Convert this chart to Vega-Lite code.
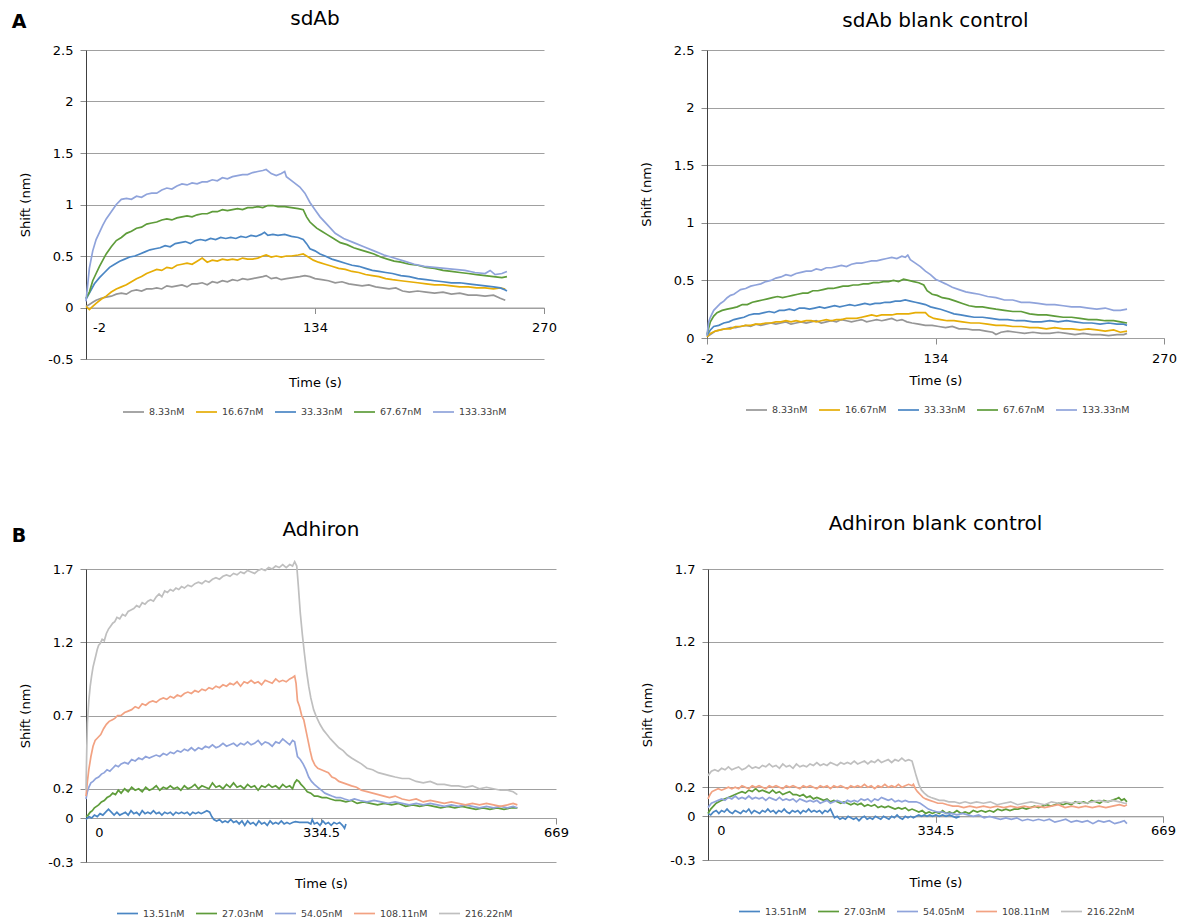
{
"padding": {"left": 11, "top": 8, "right": 5, "bottom": 3},
"spacing": 97,
"resolve": {"scale": {"color": "independent"}, "legend": {"color": "independent"}},
"config": {
  "view": {"stroke": null},
  "font": "DejaVu Sans",
  "title": {"font": "DejaVu Sans", "fontSize": 20, "fontWeight": "normal", "color": "#000000", "baseline": "middle"},
  "axis": {"labelFont": "DejaVu Sans", "labelFontSize": 13, "labelColor": "#000000", "titleFont": "DejaVu Sans", "titleFontSize": 13, "titleFontWeight": "normal", "titleColor": "#000000", "tickColor": "#8c8c8c", "tickSize": 6, "gridColor": "#a0a0a0", "labelOverlap": false, "labelFlush": false, "labelExpr": "'' + datum.value"},
  "axisX": {"grid": false, "domainColor": "#a0a0a0", "labelPadding": 8, "titleBaseline": "middle"},
  "axisY": {"grid": true, "domainColor": "#404040", "labelPadding": 7},
  "legend": {"orient": "none", "direction": "horizontal", "title": null, "symbolType": "stroke", "symbolSize": 440, "symbolStrokeWidth": 3.5, "labelFont": "DejaVu Sans", "labelFontSize": 9.5, "labelColor": "#404040", "labelOffset": 4, "columnPadding": 7, "padding": 0},
  "line": {"strokeWidth": 1.7}
},
"vconcat": [
{
  "title": {"text": "A", "anchor": "start", "frame": "bounds", "fontSize": 19, "fontWeight": "bold", "offset": -23, "dx": -8},
  "spacing": 163, "bounds": "flush",
  "resolve": {"scale": {"x": "independent", "y": "independent", "color": "independent"}, "axis": {"x": "independent", "y": "independent"}, "legend": {"color": "independent"}},
  "hconcat": [
  {
    "width": 458, "height": 309,
    "title": {"text": "sdAb", "offset": 15.5},
    "encoding": {
      "x": {"field": "t", "type": "quantitative", "scale": {"domain": [-2, 270], "nice": false, "zero": false},
            "axis": {"values": [-2, 134, 270], "title": "Time (s)", "offset": -51.5, "titleY": 75, "labelOffset": {"condition": {"test": "datum.value == -2", "value": 13}, "value": 0}}},
      "y": {"field": "v", "type": "quantitative", "scale": {"domain": [-0.5, 2.5], "nice": false, "zero": false},
            "axis": {"values": [-0.5, 0, 0.5, 1, 1.5, 2, 2.5], "title": "Shift (nm)", "titlePadding": 15}}
    },
    "layer": [
      {"data": {"name": "tl1"}, "mark": "line", "encoding": {"color": {"datum": "8.33nM", "type": "nominal",
        "scale": {"domain": ["8.33nM", "16.67nM", "33.33nM", "67.67nM", "133.33nM"], "range": ["#969696", "#e6ad06", "#4a86c4", "#5e9c3a", "#8fa3db"]},
        "legend": {"legendX": 36, "legendY": 350.5}}}},
      {"data": {"name": "tl2"}, "mark": "line", "encoding": {"color": {"datum": "16.67nM", "type": "nominal"}}},
      {"data": {"name": "tl3"}, "mark": "line", "encoding": {"color": {"datum": "33.33nM", "type": "nominal"}}},
      {"data": {"name": "tl4"}, "mark": "line", "encoding": {"color": {"datum": "67.67nM", "type": "nominal"}}},
      {"data": {"name": "tl5"}, "mark": "line", "encoding": {"color": {"datum": "133.33nM", "type": "nominal"}}}
    ]
  },
  {
    "width": 457, "height": 288,
    "title": {"text": "sdAb blank control", "offset": 13.5},
    "encoding": {
      "x": {"field": "t", "type": "quantitative", "scale": {"domain": [-2, 270], "nice": false, "zero": false},
            "axis": {"values": [-2, 134, 270], "title": "Time (s)", "offset": 0, "titleY": 42}},
      "y": {"field": "v", "type": "quantitative", "scale": {"domain": [0, 2.5], "nice": false, "zero": false},
            "axis": {"values": [0, 0.5, 1, 1.5, 2, 2.5], "title": "Shift (nm)", "titlePadding": 20}}
    },
    "layer": [
      {"data": {"name": "tr1"}, "mark": "line", "encoding": {"color": {"datum": "8.33nM", "type": "nominal",
        "scale": {"domain": ["8.33nM", "16.67nM", "33.33nM", "67.67nM", "133.33nM"], "range": ["#969696", "#e6ad06", "#4a86c4", "#5e9c3a", "#8fa3db"]},
        "legend": {"legendX": 38, "legendY": 348.5}}}},
      {"data": {"name": "tr2"}, "mark": "line", "encoding": {"color": {"datum": "16.67nM", "type": "nominal"}}},
      {"data": {"name": "tr3"}, "mark": "line", "encoding": {"color": {"datum": "33.33nM", "type": "nominal"}}},
      {"data": {"name": "tr4"}, "mark": "line", "encoding": {"color": {"datum": "67.67nM", "type": "nominal"}}},
      {"data": {"name": "tr5"}, "mark": "line", "encoding": {"color": {"datum": "133.33nM", "type": "nominal"}}}
    ]
  }
  ]
},
{
  "title": {"text": "B", "anchor": "start", "frame": "bounds", "fontSize": 19, "fontWeight": "bold", "offset": -32, "dx": -8},
  "spacing": 152, "bounds": "flush",
  "resolve": {"scale": {"x": "independent", "y": "independent", "color": "independent"}, "axis": {"x": "independent", "y": "independent"}, "legend": {"color": "independent"}},
  "hconcat": [
  {
    "width": 470, "height": 293,
    "title": {"text": "Adhiron", "offset": 18},
    "encoding": {
      "x": {"field": "t", "type": "quantitative", "scale": {"domain": [0, 669], "nice": false, "zero": false},
            "axis": {"values": [0, 334.5, 669], "title": "Time (s)", "offset": -44, "titleY": 65, "labelPadding": 2.5, "labelOffset": {"condition": {"test": "datum.value == 0", "value": 13}, "value": 0}}},
      "y": {"field": "v", "type": "quantitative", "scale": {"domain": [-0.3, 1.7], "nice": false, "zero": false},
            "axis": {"values": [-0.3, 0, 0.2, 0.7, 1.2, 1.7], "title": "Shift (nm)", "titlePadding": 15}}
    },
    "layer": [
      {"data": {"name": "bl1"}, "mark": "line", "encoding": {"color": {"datum": "13.51nM", "type": "nominal",
        "scale": {"domain": ["13.51nM", "27.03nM", "54.05nM", "108.11nM", "216.22nM"], "range": ["#4a86c4", "#5e9c3a", "#8fa3db", "#f2a282", "#bfbfbf"]},
        "legend": {"legendX": 30, "legendY": 333}}}},
      {"data": {"name": "bl2"}, "mark": "line", "encoding": {"color": {"datum": "27.03nM", "type": "nominal"}}},
      {"data": {"name": "bl3"}, "mark": "line", "encoding": {"color": {"datum": "54.05nM", "type": "nominal"}}},
      {"data": {"name": "bl4"}, "mark": "line", "encoding": {"color": {"datum": "108.11nM", "type": "nominal"}}},
      {"data": {"name": "bl5"}, "mark": "line", "encoding": {"color": {"datum": "216.22nM", "type": "nominal"}}}
    ]
  },
  {
    "width": 455, "height": 291,
    "title": {"text": "Adhiron blank control", "offset": 29},
    "encoding": {
      "x": {"field": "t", "type": "quantitative", "scale": {"domain": [0, 669], "nice": false, "zero": false},
            "axis": {"values": [0, 334.5, 669], "title": "Time (s)", "offset": -43.65, "titleY": 66, "labelPadding": 2.5, "labelOffset": {"condition": {"test": "datum.value == 0", "value": 13}, "value": 0}}},
      "y": {"field": "v", "type": "quantitative", "scale": {"domain": [-0.3, 1.7], "nice": false, "zero": false},
            "axis": {"values": [-0.3, 0, 0.2, 0.7, 1.2, 1.7], "title": "Shift (nm)", "titlePadding": 15}}
    },
    "layer": [
      {"data": {"name": "br1"}, "mark": "line", "encoding": {"color": {"datum": "13.51nM", "type": "nominal",
        "scale": {"domain": ["13.51nM", "27.03nM", "54.05nM", "108.11nM", "216.22nM"], "range": ["#4a86c4", "#5e9c3a", "#8fa3db", "#f2a282", "#bfbfbf"]},
        "legend": {"legendX": 30, "legendY": 331}}}},
      {"data": {"name": "br2"}, "mark": "line", "encoding": {"color": {"datum": "27.03nM", "type": "nominal"}}},
      {"data": {"name": "br3"}, "mark": "line", "encoding": {"color": {"datum": "54.05nM", "type": "nominal"}}},
      {"data": {"name": "br4"}, "mark": "line", "encoding": {"color": {"datum": "108.11nM", "type": "nominal"}}},
      {"data": {"name": "br5"}, "mark": "line", "encoding": {"color": {"datum": "216.22nM", "type": "nominal"}}}
    ]
  }
  ]
}
],
"datasets": {
"tl1": [{"t":-2,"v":0.01},{"t":0,"v":0.03},{"t":2,"v":0.05},{"t":4,"v":0.07},{"t":7,"v":0.09},{"t":10,"v":0.1},{"t":13,"v":0.11},{"t":16,"v":0.13},{"t":19,"v":0.14},{"t":22,"v":0.13},{"t":25,"v":0.16},{"t":28,"v":0.17},{"t":31,"v":0.16},{"t":34,"v":0.18},{"t":37,"v":0.18},{"t":40,"v":0.19},{"t":43,"v":0.18},{"t":46,"v":0.21},{"t":49,"v":0.2},{"t":52,"v":0.21},{"t":55,"v":0.22},{"t":58,"v":0.2},{"t":61,"v":0.23},{"t":64,"v":0.23},{"t":67,"v":0.24},{"t":70,"v":0.22},{"t":73,"v":0.25},{"t":76,"v":0.24},{"t":79,"v":0.26},{"t":82,"v":0.25},{"t":85,"v":0.27},{"t":88,"v":0.26},{"t":91,"v":0.28},{"t":94,"v":0.27},{"t":97,"v":0.28},{"t":100,"v":0.29},{"t":103,"v":0.3},{"t":105,"v":0.31},{"t":108,"v":0.28},{"t":111,"v":0.29},{"t":114,"v":0.27},{"t":117,"v":0.28},{"t":121,"v":0.29},{"t":125,"v":0.3},{"t":128,"v":0.31},{"t":131,"v":0.3},{"t":134,"v":0.28},{"t":138,"v":0.27},{"t":142,"v":0.26},{"t":146,"v":0.24},{"t":150,"v":0.25},{"t":154,"v":0.23},{"t":158,"v":0.22},{"t":162,"v":0.21},{"t":166,"v":0.22},{"t":170,"v":0.2},{"t":174,"v":0.19},{"t":178,"v":0.18},{"t":182,"v":0.19},{"t":186,"v":0.16},{"t":190,"v":0.15},{"t":195,"v":0.16},{"t":200,"v":0.15},{"t":205,"v":0.14},{"t":210,"v":0.15},{"t":215,"v":0.13},{"t":220,"v":0.14},{"t":225,"v":0.12},{"t":230,"v":0.12},{"t":235,"v":0.11},{"t":240,"v":0.12},{"t":244,"v":0.09},{"t":247,"v":0.07}],
"tl2": [{"t":-2,"v":0.01},{"t":0,"v":-0.02},{"t":2,"v":0.01},{"t":4,"v":0.04},{"t":7,"v":0.08},{"t":10,"v":0.11},{"t":13,"v":0.15},{"t":16,"v":0.18},{"t":19,"v":0.2},{"t":22,"v":0.22},{"t":25,"v":0.25},{"t":28,"v":0.28},{"t":31,"v":0.3},{"t":34,"v":0.33},{"t":37,"v":0.35},{"t":40,"v":0.37},{"t":43,"v":0.36},{"t":46,"v":0.39},{"t":49,"v":0.38},{"t":52,"v":0.41},{"t":55,"v":0.42},{"t":58,"v":0.43},{"t":61,"v":0.42},{"t":64,"v":0.45},{"t":67,"v":0.48},{"t":70,"v":0.44},{"t":73,"v":0.46},{"t":76,"v":0.45},{"t":79,"v":0.47},{"t":82,"v":0.46},{"t":85,"v":0.47},{"t":88,"v":0.46},{"t":91,"v":0.48},{"t":94,"v":0.47},{"t":97,"v":0.47},{"t":100,"v":0.48},{"t":103,"v":0.5},{"t":105,"v":0.51},{"t":108,"v":0.49},{"t":111,"v":0.5},{"t":114,"v":0.49},{"t":117,"v":0.5},{"t":120,"v":0.5},{"t":124,"v":0.51},{"t":127,"v":0.52},{"t":130,"v":0.49},{"t":133,"v":0.46},{"t":136,"v":0.44},{"t":140,"v":0.42},{"t":144,"v":0.4},{"t":148,"v":0.38},{"t":152,"v":0.37},{"t":156,"v":0.35},{"t":160,"v":0.34},{"t":164,"v":0.32},{"t":168,"v":0.31},{"t":172,"v":0.3},{"t":176,"v":0.28},{"t":180,"v":0.27},{"t":185,"v":0.26},{"t":190,"v":0.25},{"t":195,"v":0.24},{"t":200,"v":0.23},{"t":205,"v":0.22},{"t":210,"v":0.22},{"t":215,"v":0.21},{"t":220,"v":0.2},{"t":225,"v":0.2},{"t":230,"v":0.19},{"t":235,"v":0.19},{"t":240,"v":0.18},{"t":244,"v":0.19},{"t":247,"v":0.18}],
"tl3": [{"t":-2,"v":0.08},{"t":0,"v":0.14},{"t":3,"v":0.23},{"t":6,"v":0.29},{"t":9,"v":0.34},{"t":12,"v":0.39},{"t":15,"v":0.42},{"t":18,"v":0.45},{"t":21,"v":0.47},{"t":24,"v":0.49},{"t":27,"v":0.5},{"t":30,"v":0.52},{"t":33,"v":0.54},{"t":36,"v":0.56},{"t":39,"v":0.57},{"t":42,"v":0.58},{"t":45,"v":0.6},{"t":48,"v":0.59},{"t":51,"v":0.62},{"t":54,"v":0.63},{"t":57,"v":0.64},{"t":60,"v":0.62},{"t":63,"v":0.65},{"t":66,"v":0.66},{"t":69,"v":0.65},{"t":72,"v":0.67},{"t":75,"v":0.66},{"t":78,"v":0.68},{"t":81,"v":0.67},{"t":84,"v":0.68},{"t":87,"v":0.67},{"t":90,"v":0.69},{"t":93,"v":0.68},{"t":96,"v":0.7},{"t":99,"v":0.69},{"t":102,"v":0.71},{"t":104,"v":0.73},{"t":106,"v":0.7},{"t":109,"v":0.71},{"t":112,"v":0.7},{"t":116,"v":0.71},{"t":120,"v":0.69},{"t":124,"v":0.68},{"t":127,"v":0.66},{"t":129,"v":0.62},{"t":131,"v":0.57},{"t":134,"v":0.55},{"t":137,"v":0.52},{"t":140,"v":0.5},{"t":144,"v":0.47},{"t":148,"v":0.45},{"t":152,"v":0.43},{"t":156,"v":0.41},{"t":160,"v":0.4},{"t":164,"v":0.38},{"t":168,"v":0.36},{"t":172,"v":0.35},{"t":176,"v":0.34},{"t":180,"v":0.33},{"t":185,"v":0.31},{"t":190,"v":0.3},{"t":195,"v":0.28},{"t":200,"v":0.27},{"t":205,"v":0.26},{"t":210,"v":0.25},{"t":215,"v":0.24},{"t":220,"v":0.24},{"t":225,"v":0.23},{"t":230,"v":0.22},{"t":235,"v":0.21},{"t":240,"v":0.2},{"t":244,"v":0.19},{"t":247,"v":0.17},{"t":248,"v":0.16}],
"tl4": [{"t":-2,"v":0.09},{"t":0,"v":0.15},{"t":2,"v":0.26},{"t":4,"v":0.33},{"t":6,"v":0.4},{"t":8,"v":0.46},{"t":10,"v":0.52},{"t":13,"v":0.59},{"t":16,"v":0.65},{"t":19,"v":0.68},{"t":22,"v":0.72},{"t":25,"v":0.74},{"t":28,"v":0.77},{"t":31,"v":0.78},{"t":34,"v":0.81},{"t":37,"v":0.82},{"t":40,"v":0.83},{"t":43,"v":0.85},{"t":46,"v":0.86},{"t":49,"v":0.85},{"t":52,"v":0.87},{"t":55,"v":0.88},{"t":58,"v":0.89},{"t":61,"v":0.88},{"t":64,"v":0.9},{"t":67,"v":0.91},{"t":70,"v":0.91},{"t":73,"v":0.93},{"t":76,"v":0.93},{"t":79,"v":0.95},{"t":82,"v":0.94},{"t":85,"v":0.95},{"t":88,"v":0.96},{"t":91,"v":0.95},{"t":94,"v":0.97},{"t":97,"v":0.97},{"t":100,"v":0.98},{"t":103,"v":0.97},{"t":106,"v":0.99},{"t":109,"v":0.99},{"t":112,"v":0.98},{"t":116,"v":0.98},{"t":120,"v":0.97},{"t":124,"v":0.96},{"t":127,"v":0.95},{"t":129,"v":0.88},{"t":131,"v":0.83},{"t":133,"v":0.8},{"t":135,"v":0.77},{"t":138,"v":0.74},{"t":141,"v":0.71},{"t":145,"v":0.67},{"t":149,"v":0.63},{"t":153,"v":0.61},{"t":157,"v":0.58},{"t":161,"v":0.56},{"t":165,"v":0.54},{"t":169,"v":0.52},{"t":173,"v":0.49},{"t":177,"v":0.47},{"t":181,"v":0.45},{"t":185,"v":0.44},{"t":190,"v":0.42},{"t":195,"v":0.41},{"t":200,"v":0.39},{"t":205,"v":0.38},{"t":210,"v":0.36},{"t":215,"v":0.35},{"t":220,"v":0.34},{"t":225,"v":0.33},{"t":230,"v":0.32},{"t":235,"v":0.31},{"t":240,"v":0.3},{"t":245,"v":0.29},{"t":248,"v":0.3}],
"tl5": [{"t":-2,"v":0.06},{"t":0,"v":0.38},{"t":2,"v":0.55},{"t":4,"v":0.66},{"t":6,"v":0.73},{"t":8,"v":0.8},{"t":10,"v":0.86},{"t":13,"v":0.93},{"t":16,"v":1},{"t":19,"v":1.05},{"t":22,"v":1.06},{"t":25,"v":1.05},{"t":28,"v":1.08},{"t":31,"v":1.07},{"t":34,"v":1.1},{"t":37,"v":1.11},{"t":40,"v":1.11},{"t":43,"v":1.14},{"t":46,"v":1.16},{"t":49,"v":1.15},{"t":52,"v":1.18},{"t":55,"v":1.2},{"t":58,"v":1.19},{"t":61,"v":1.21},{"t":64,"v":1.2},{"t":67,"v":1.22},{"t":70,"v":1.22},{"t":73,"v":1.24},{"t":76,"v":1.23},{"t":79,"v":1.26},{"t":82,"v":1.25},{"t":85,"v":1.27},{"t":88,"v":1.28},{"t":91,"v":1.29},{"t":94,"v":1.29},{"t":97,"v":1.31},{"t":100,"v":1.32},{"t":103,"v":1.33},{"t":105,"v":1.34},{"t":108,"v":1.3},{"t":111,"v":1.28},{"t":114,"v":1.3},{"t":116,"v":1.32},{"t":117,"v":1.27},{"t":121,"v":1.22},{"t":125,"v":1.17},{"t":128,"v":1.11},{"t":131,"v":1.02},{"t":134,"v":0.95},{"t":137,"v":0.88},{"t":141,"v":0.81},{"t":146,"v":0.72},{"t":151,"v":0.67},{"t":157,"v":0.63},{"t":163,"v":0.59},{"t":169,"v":0.55},{"t":175,"v":0.51},{"t":181,"v":0.48},{"t":187,"v":0.45},{"t":193,"v":0.42},{"t":199,"v":0.4},{"t":205,"v":0.39},{"t":211,"v":0.38},{"t":217,"v":0.37},{"t":223,"v":0.36},{"t":229,"v":0.34},{"t":235,"v":0.33},{"t":238,"v":0.36},{"t":241,"v":0.32},{"t":245,"v":0.33},{"t":248,"v":0.35}],
"tr1": [{"t":-2,"v":0.01},{"t":0,"v":0.03},{"t":3,"v":0.06},{"t":6,"v":0.07},{"t":9,"v":0.08},{"t":12,"v":0.09},{"t":15,"v":0.09},{"t":18,"v":0.1},{"t":21,"v":0.11},{"t":24,"v":0.1},{"t":27,"v":0.12},{"t":30,"v":0.11},{"t":33,"v":0.12},{"t":36,"v":0.13},{"t":39,"v":0.12},{"t":42,"v":0.13},{"t":45,"v":0.14},{"t":48,"v":0.12},{"t":51,"v":0.13},{"t":54,"v":0.14},{"t":57,"v":0.13},{"t":60,"v":0.14},{"t":63,"v":0.15},{"t":66,"v":0.13},{"t":69,"v":0.14},{"t":72,"v":0.15},{"t":75,"v":0.14},{"t":78,"v":0.16},{"t":81,"v":0.15},{"t":84,"v":0.14},{"t":87,"v":0.15},{"t":90,"v":0.16},{"t":93,"v":0.14},{"t":96,"v":0.15},{"t":99,"v":0.16},{"t":102,"v":0.15},{"t":105,"v":0.16},{"t":108,"v":0.17},{"t":111,"v":0.15},{"t":114,"v":0.16},{"t":117,"v":0.14},{"t":120,"v":0.13},{"t":124,"v":0.12},{"t":128,"v":0.11},{"t":132,"v":0.11},{"t":136,"v":0.1},{"t":140,"v":0.09},{"t":144,"v":0.1},{"t":148,"v":0.08},{"t":152,"v":0.08},{"t":156,"v":0.07},{"t":160,"v":0.07},{"t":164,"v":0.06},{"t":168,"v":0.05},{"t":170,"v":0.03},{"t":173,"v":0.05},{"t":177,"v":0.06},{"t":182,"v":0.05},{"t":187,"v":0.04},{"t":192,"v":0.05},{"t":197,"v":0.04},{"t":202,"v":0.04},{"t":207,"v":0.05},{"t":212,"v":0.04},{"t":217,"v":0.03},{"t":222,"v":0.04},{"t":227,"v":0.03},{"t":232,"v":0.03},{"t":237,"v":0.02},{"t":242,"v":0.03},{"t":246,"v":0.03},{"t":248,"v":0.04}],
"tr2": [{"t":-2,"v":0.01},{"t":0,"v":0.04},{"t":3,"v":0.06},{"t":6,"v":0.07},{"t":9,"v":0.08},{"t":12,"v":0.08},{"t":15,"v":0.1},{"t":18,"v":0.1},{"t":21,"v":0.11},{"t":24,"v":0.11},{"t":27,"v":0.12},{"t":30,"v":0.12},{"t":33,"v":0.13},{"t":36,"v":0.13},{"t":39,"v":0.14},{"t":42,"v":0.14},{"t":45,"v":0.15},{"t":48,"v":0.14},{"t":51,"v":0.15},{"t":54,"v":0.14},{"t":57,"v":0.15},{"t":60,"v":0.15},{"t":63,"v":0.14},{"t":66,"v":0.15},{"t":69,"v":0.16},{"t":72,"v":0.15},{"t":75,"v":0.16},{"t":78,"v":0.16},{"t":81,"v":0.17},{"t":84,"v":0.17},{"t":87,"v":0.17},{"t":90,"v":0.18},{"t":93,"v":0.19},{"t":96,"v":0.2},{"t":99,"v":0.19},{"t":102,"v":0.2},{"t":105,"v":0.2},{"t":108,"v":0.2},{"t":111,"v":0.21},{"t":114,"v":0.21},{"t":118,"v":0.21},{"t":122,"v":0.22},{"t":126,"v":0.22},{"t":128,"v":0.22},{"t":130,"v":0.19},{"t":133,"v":0.17},{"t":137,"v":0.16},{"t":141,"v":0.15},{"t":145,"v":0.15},{"t":150,"v":0.14},{"t":155,"v":0.13},{"t":160,"v":0.13},{"t":165,"v":0.12},{"t":170,"v":0.11},{"t":175,"v":0.11},{"t":180,"v":0.1},{"t":185,"v":0.1},{"t":190,"v":0.09},{"t":195,"v":0.09},{"t":200,"v":0.08},{"t":205,"v":0.09},{"t":210,"v":0.08},{"t":215,"v":0.08},{"t":220,"v":0.07},{"t":225,"v":0.08},{"t":230,"v":0.07},{"t":235,"v":0.06},{"t":240,"v":0.07},{"t":244,"v":0.05},{"t":248,"v":0.06}],
"tr3": [{"t":-2,"v":0.02},{"t":0,"v":0.07},{"t":2,"v":0.1},{"t":5,"v":0.11},{"t":8,"v":0.13},{"t":11,"v":0.14},{"t":14,"v":0.16},{"t":17,"v":0.17},{"t":20,"v":0.18},{"t":23,"v":0.2},{"t":26,"v":0.21},{"t":29,"v":0.21},{"t":32,"v":0.22},{"t":35,"v":0.23},{"t":38,"v":0.22},{"t":41,"v":0.24},{"t":44,"v":0.24},{"t":47,"v":0.25},{"t":50,"v":0.24},{"t":53,"v":0.26},{"t":56,"v":0.26},{"t":59,"v":0.25},{"t":62,"v":0.26},{"t":65,"v":0.27},{"t":68,"v":0.26},{"t":71,"v":0.27},{"t":74,"v":0.28},{"t":77,"v":0.27},{"t":80,"v":0.28},{"t":83,"v":0.29},{"t":86,"v":0.28},{"t":89,"v":0.29},{"t":92,"v":0.3},{"t":95,"v":0.29},{"t":98,"v":0.3},{"t":101,"v":0.3},{"t":104,"v":0.31},{"t":107,"v":0.31},{"t":110,"v":0.32},{"t":113,"v":0.32},{"t":116,"v":0.33},{"t":119,"v":0.32},{"t":122,"v":0.31},{"t":125,"v":0.3},{"t":128,"v":0.29},{"t":131,"v":0.27},{"t":134,"v":0.26},{"t":137,"v":0.25},{"t":141,"v":0.23},{"t":145,"v":0.21},{"t":149,"v":0.2},{"t":153,"v":0.19},{"t":157,"v":0.18},{"t":162,"v":0.18},{"t":167,"v":0.17},{"t":172,"v":0.16},{"t":177,"v":0.16},{"t":182,"v":0.15},{"t":187,"v":0.15},{"t":192,"v":0.14},{"t":197,"v":0.14},{"t":202,"v":0.15},{"t":207,"v":0.14},{"t":212,"v":0.15},{"t":217,"v":0.14},{"t":222,"v":0.13},{"t":227,"v":0.13},{"t":232,"v":0.12},{"t":237,"v":0.13},{"t":242,"v":0.12},{"t":246,"v":0.12},{"t":248,"v":0.11}],
"tr4": [{"t":-2,"v":0.03},{"t":0,"v":0.14},{"t":2,"v":0.19},{"t":4,"v":0.22},{"t":7,"v":0.24},{"t":10,"v":0.25},{"t":13,"v":0.26},{"t":16,"v":0.27},{"t":19,"v":0.29},{"t":22,"v":0.29},{"t":25,"v":0.31},{"t":28,"v":0.32},{"t":31,"v":0.33},{"t":34,"v":0.34},{"t":37,"v":0.35},{"t":40,"v":0.36},{"t":43,"v":0.35},{"t":46,"v":0.36},{"t":49,"v":0.37},{"t":52,"v":0.38},{"t":55,"v":0.39},{"t":58,"v":0.39},{"t":61,"v":0.41},{"t":64,"v":0.41},{"t":67,"v":0.42},{"t":70,"v":0.43},{"t":73,"v":0.43},{"t":76,"v":0.44},{"t":79,"v":0.45},{"t":82,"v":0.45},{"t":85,"v":0.46},{"t":88,"v":0.46},{"t":91,"v":0.47},{"t":94,"v":0.47},{"t":97,"v":0.48},{"t":100,"v":0.48},{"t":103,"v":0.49},{"t":106,"v":0.49},{"t":109,"v":0.5},{"t":112,"v":0.49},{"t":115,"v":0.51},{"t":118,"v":0.5},{"t":121,"v":0.49},{"t":124,"v":0.48},{"t":127,"v":0.46},{"t":129,"v":0.41},{"t":132,"v":0.38},{"t":135,"v":0.37},{"t":138,"v":0.35},{"t":142,"v":0.34},{"t":146,"v":0.32},{"t":150,"v":0.3},{"t":154,"v":0.28},{"t":158,"v":0.27},{"t":162,"v":0.27},{"t":166,"v":0.26},{"t":170,"v":0.25},{"t":175,"v":0.24},{"t":180,"v":0.23},{"t":185,"v":0.23},{"t":190,"v":0.21},{"t":195,"v":0.2},{"t":200,"v":0.2},{"t":205,"v":0.19},{"t":210,"v":0.18},{"t":215,"v":0.18},{"t":220,"v":0.17},{"t":225,"v":0.16},{"t":230,"v":0.16},{"t":235,"v":0.15},{"t":240,"v":0.15},{"t":244,"v":0.14},{"t":248,"v":0.13}],
"tr5": [{"t":-2,"v":0.02},{"t":-1,"v":0.14},{"t":0,"v":0.18},{"t":2,"v":0.24},{"t":4,"v":0.27},{"t":6,"v":0.3},{"t":8,"v":0.32},{"t":10,"v":0.35},{"t":12,"v":0.37},{"t":14,"v":0.38},{"t":16,"v":0.4},{"t":18,"v":0.42},{"t":21,"v":0.43},{"t":24,"v":0.45},{"t":27,"v":0.46},{"t":30,"v":0.47},{"t":33,"v":0.49},{"t":36,"v":0.5},{"t":39,"v":0.52},{"t":42,"v":0.53},{"t":45,"v":0.55},{"t":48,"v":0.54},{"t":51,"v":0.56},{"t":54,"v":0.57},{"t":57,"v":0.58},{"t":60,"v":0.58},{"t":63,"v":0.6},{"t":66,"v":0.59},{"t":69,"v":0.61},{"t":72,"v":0.61},{"t":75,"v":0.62},{"t":78,"v":0.63},{"t":81,"v":0.62},{"t":84,"v":0.64},{"t":87,"v":0.65},{"t":90,"v":0.65},{"t":93,"v":0.66},{"t":96,"v":0.67},{"t":99,"v":0.67},{"t":102,"v":0.68},{"t":105,"v":0.69},{"t":108,"v":0.7},{"t":111,"v":0.69},{"t":114,"v":0.71},{"t":116,"v":0.7},{"t":117.5,"v":0.72},{"t":119,"v":0.68},{"t":122,"v":0.65},{"t":125,"v":0.62},{"t":128,"v":0.58},{"t":131,"v":0.55},{"t":134,"v":0.51},{"t":137,"v":0.49},{"t":140,"v":0.47},{"t":144,"v":0.44},{"t":148,"v":0.42},{"t":152,"v":0.4},{"t":156,"v":0.39},{"t":160,"v":0.38},{"t":165,"v":0.36},{"t":170,"v":0.35},{"t":175,"v":0.33},{"t":180,"v":0.33},{"t":185,"v":0.31},{"t":190,"v":0.31},{"t":195,"v":0.3},{"t":200,"v":0.29},{"t":205,"v":0.29},{"t":210,"v":0.28},{"t":215,"v":0.27},{"t":220,"v":0.27},{"t":225,"v":0.26},{"t":230,"v":0.25},{"t":235,"v":0.26},{"t":240,"v":0.24},{"t":244,"v":0.24},{"t":248,"v":0.25}],
"bl1": [{"t":0,"v":-0.01},{"t":4,"v":0.01},{"t":8,"v":0},{"t":12,"v":0.02},{"t":16,"v":0.01},{"t":20,"v":0.03},{"t":24,"v":0.02},{"t":28,"v":0.04},{"t":32,"v":0.06},{"t":36,"v":0.04},{"t":40,"v":0.02},{"t":44,"v":0.04},{"t":48,"v":0.02},{"t":52,"v":0.03},{"t":56,"v":0.04},{"t":60,"v":0.02},{"t":64,"v":0.05},{"t":68,"v":0.03},{"t":72,"v":0.04},{"t":76,"v":0.02},{"t":80,"v":0.05},{"t":84,"v":0.03},{"t":88,"v":0.04},{"t":92,"v":0.03},{"t":96,"v":0.05},{"t":100,"v":0.03},{"t":104,"v":0.04},{"t":108,"v":0.02},{"t":112,"v":0.04},{"t":116,"v":0.03},{"t":120,"v":0.04},{"t":124,"v":0.02},{"t":128,"v":0.04},{"t":132,"v":0.03},{"t":136,"v":0.04},{"t":140,"v":0.03},{"t":144,"v":0.04},{"t":148,"v":0.02},{"t":152,"v":0.04},{"t":156,"v":0.03},{"t":160,"v":0.04},{"t":164,"v":0.03},{"t":168,"v":0.04},{"t":172,"v":0.05},{"t":176,"v":0.04},{"t":179,"v":0.01},{"t":182,"v":-0.01},{"t":186,"v":-0.02},{"t":190,"v":-0.01},{"t":194,"v":-0.03},{"t":198,"v":-0.02},{"t":202,"v":-0.03},{"t":206,"v":-0.01},{"t":210,"v":-0.03},{"t":214,"v":-0.02},{"t":218,"v":-0.04},{"t":222,"v":-0.02},{"t":226,"v":-0.05},{"t":230,"v":-0.02},{"t":234,"v":-0.04},{"t":238,"v":-0.03},{"t":242,"v":-0.05},{"t":246,"v":-0.02},{"t":250,"v":-0.04},{"t":254,"v":-0.03},{"t":258,"v":-0.05},{"t":262,"v":-0.02},{"t":266,"v":-0.04},{"t":270,"v":-0.03},{"t":274,"v":-0.04},{"t":278,"v":-0.02},{"t":282,"v":-0.04},{"t":286,"v":-0.03},{"t":290,"v":-0.04},{"t":294,"v":-0.03},{"t":298,"v":-0.025},{"t":304,"v":-0.03},{"t":310,"v":-0.03},{"t":316,"v":-0.03},{"t":320,"v":-0.04},{"t":322,"v":-0.01},{"t":325,"v":-0.04},{"t":329,"v":-0.03},{"t":333,"v":-0.05},{"t":337,"v":-0.02},{"t":341,"v":-0.04},{"t":345,"v":-0.03},{"t":349,"v":-0.05},{"t":353,"v":-0.03},{"t":357,"v":-0.04},{"t":361,"v":-0.03},{"t":365,"v":-0.05},{"t":368,"v":-0.07},{"t":370,"v":-0.04}],
"bl2": [{"t":0,"v":0.01},{"t":3,"v":0.02},{"t":6,"v":0.04},{"t":9,"v":0.05},{"t":12,"v":0.07},{"t":15,"v":0.08},{"t":18,"v":0.09},{"t":22,"v":0.11},{"t":26,"v":0.12},{"t":30,"v":0.14},{"t":34,"v":0.15},{"t":38,"v":0.17},{"t":42,"v":0.16},{"t":46,"v":0.19},{"t":50,"v":0.17},{"t":55,"v":0.2},{"t":60,"v":0.18},{"t":65,"v":0.21},{"t":70,"v":0.19},{"t":75,"v":0.2},{"t":80,"v":0.18},{"t":85,"v":0.21},{"t":90,"v":0.19},{"t":95,"v":0.2},{"t":100,"v":0.22},{"t":105,"v":0.19},{"t":110,"v":0.21},{"t":115,"v":0.2},{"t":120,"v":0.22},{"t":125,"v":0.2},{"t":130,"v":0.21},{"t":135,"v":0.19},{"t":140,"v":0.22},{"t":145,"v":0.2},{"t":150,"v":0.21},{"t":155,"v":0.23},{"t":160,"v":0.2},{"t":165,"v":0.22},{"t":170,"v":0.21},{"t":175,"v":0.2},{"t":180,"v":0.24},{"t":185,"v":0.21},{"t":190,"v":0.22},{"t":195,"v":0.2},{"t":200,"v":0.23},{"t":205,"v":0.21},{"t":210,"v":0.24},{"t":215,"v":0.21},{"t":220,"v":0.22},{"t":225,"v":0.2},{"t":230,"v":0.23},{"t":235,"v":0.21},{"t":240,"v":0.22},{"t":245,"v":0.19},{"t":250,"v":0.22},{"t":255,"v":0.21},{"t":260,"v":0.23},{"t":265,"v":0.21},{"t":270,"v":0.22},{"t":275,"v":0.2},{"t":280,"v":0.23},{"t":285,"v":0.21},{"t":290,"v":0.22},{"t":294,"v":0.2},{"t":297,"v":0.24},{"t":300,"v":0.26},{"t":303,"v":0.25},{"t":306,"v":0.23},{"t":310,"v":0.21},{"t":315,"v":0.18},{"t":320,"v":0.17},{"t":325,"v":0.15},{"t":330,"v":0.15},{"t":336,"v":0.14},{"t":342,"v":0.14},{"t":348,"v":0.13},{"t":355,"v":0.12},{"t":362,"v":0.12},{"t":370,"v":0.11},{"t":378,"v":0.12},{"t":386,"v":0.1},{"t":395,"v":0.11},{"t":405,"v":0.1},{"t":415,"v":0.09},{"t":425,"v":0.1},{"t":435,"v":0.09},{"t":445,"v":0.1},{"t":455,"v":0.08},{"t":465,"v":0.09},{"t":475,"v":0.08},{"t":485,"v":0.09},{"t":495,"v":0.08},{"t":505,"v":0.07},{"t":515,"v":0.08},{"t":525,"v":0.07},{"t":535,"v":0.08},{"t":545,"v":0.07},{"t":555,"v":0.06},{"t":565,"v":0.07},{"t":575,"v":0.06},{"t":585,"v":0.07},{"t":595,"v":0.06},{"t":605,"v":0.07},{"t":614,"v":0.07}],
"bl3": [{"t":0,"v":0.13},{"t":2,"v":0.18},{"t":4,"v":0.21},{"t":7,"v":0.24},{"t":10,"v":0.25},{"t":14,"v":0.27},{"t":18,"v":0.28},{"t":22,"v":0.3},{"t":26,"v":0.31},{"t":30,"v":0.33},{"t":34,"v":0.32},{"t":38,"v":0.34},{"t":42,"v":0.36},{"t":46,"v":0.35},{"t":50,"v":0.37},{"t":55,"v":0.38},{"t":60,"v":0.37},{"t":65,"v":0.4},{"t":70,"v":0.39},{"t":75,"v":0.41},{"t":80,"v":0.4},{"t":85,"v":0.42},{"t":90,"v":0.41},{"t":95,"v":0.42},{"t":100,"v":0.43},{"t":105,"v":0.42},{"t":110,"v":0.44},{"t":115,"v":0.43},{"t":120,"v":0.45},{"t":125,"v":0.44},{"t":130,"v":0.46},{"t":135,"v":0.45},{"t":140,"v":0.47},{"t":145,"v":0.46},{"t":150,"v":0.48},{"t":155,"v":0.46},{"t":160,"v":0.48},{"t":165,"v":0.47},{"t":170,"v":0.49},{"t":175,"v":0.48},{"t":180,"v":0.5},{"t":185,"v":0.48},{"t":190,"v":0.49},{"t":195,"v":0.51},{"t":200,"v":0.49},{"t":205,"v":0.5},{"t":210,"v":0.51},{"t":215,"v":0.49},{"t":220,"v":0.51},{"t":225,"v":0.5},{"t":230,"v":0.52},{"t":235,"v":0.5},{"t":240,"v":0.51},{"t":245,"v":0.53},{"t":250,"v":0.5},{"t":255,"v":0.52},{"t":260,"v":0.51},{"t":265,"v":0.49},{"t":270,"v":0.52},{"t":275,"v":0.51},{"t":280,"v":0.54},{"t":285,"v":0.52},{"t":290,"v":0.5},{"t":294,"v":0.53},{"t":297,"v":0.52},{"t":299,"v":0.47},{"t":301,"v":0.42},{"t":305,"v":0.4},{"t":309,"v":0.37},{"t":313,"v":0.33},{"t":317,"v":0.28},{"t":321,"v":0.25},{"t":325,"v":0.23},{"t":330,"v":0.21},{"t":335,"v":0.19},{"t":340,"v":0.17},{"t":345,"v":0.16},{"t":350,"v":0.15},{"t":356,"v":0.14},{"t":362,"v":0.14},{"t":368,"v":0.13},{"t":375,"v":0.12},{"t":382,"v":0.13},{"t":390,"v":0.12},{"t":400,"v":0.11},{"t":410,"v":0.12},{"t":420,"v":0.11},{"t":430,"v":0.1},{"t":440,"v":0.11},{"t":450,"v":0.1},{"t":460,"v":0.09},{"t":470,"v":0.1},{"t":480,"v":0.09},{"t":490,"v":0.1},{"t":500,"v":0.09},{"t":510,"v":0.08},{"t":520,"v":0.09},{"t":530,"v":0.08},{"t":540,"v":0.09},{"t":550,"v":0.08},{"t":560,"v":0.07},{"t":570,"v":0.08},{"t":580,"v":0.07},{"t":590,"v":0.08},{"t":600,"v":0.07},{"t":608,"v":0.08},{"t":614,"v":0.07}],
"bl4": [{"t":0,"v":0.15},{"t":2,"v":0.25},{"t":4,"v":0.33},{"t":7,"v":0.42},{"t":10,"v":0.49},{"t":13,"v":0.53},{"t":17,"v":0.55},{"t":21,"v":0.57},{"t":25,"v":0.61},{"t":29,"v":0.64},{"t":33,"v":0.66},{"t":37,"v":0.67},{"t":41,"v":0.68},{"t":45,"v":0.7},{"t":50,"v":0.7},{"t":55,"v":0.72},{"t":60,"v":0.73},{"t":65,"v":0.74},{"t":70,"v":0.76},{"t":75,"v":0.75},{"t":80,"v":0.78},{"t":85,"v":0.77},{"t":90,"v":0.79},{"t":95,"v":0.8},{"t":100,"v":0.79},{"t":105,"v":0.81},{"t":110,"v":0.82},{"t":115,"v":0.81},{"t":120,"v":0.83},{"t":125,"v":0.82},{"t":130,"v":0.84},{"t":135,"v":0.83},{"t":140,"v":0.85},{"t":145,"v":0.86},{"t":150,"v":0.85},{"t":155,"v":0.87},{"t":160,"v":0.86},{"t":165,"v":0.88},{"t":170,"v":0.87},{"t":175,"v":0.89},{"t":180,"v":0.88},{"t":185,"v":0.9},{"t":190,"v":0.89},{"t":195,"v":0.91},{"t":200,"v":0.9},{"t":205,"v":0.92},{"t":210,"v":0.91},{"t":215,"v":0.93},{"t":220,"v":0.9},{"t":225,"v":0.93},{"t":230,"v":0.92},{"t":235,"v":0.94},{"t":240,"v":0.92},{"t":245,"v":0.93},{"t":250,"v":0.91},{"t":255,"v":0.94},{"t":260,"v":0.93},{"t":265,"v":0.92},{"t":270,"v":0.95},{"t":275,"v":0.93},{"t":280,"v":0.94},{"t":285,"v":0.93},{"t":290,"v":0.95},{"t":294,"v":0.96},{"t":297,"v":0.97},{"t":299,"v":0.92},{"t":301,"v":0.8},{"t":304,"v":0.76},{"t":307,"v":0.7},{"t":310,"v":0.67},{"t":313,"v":0.6},{"t":316,"v":0.53},{"t":319,"v":0.46},{"t":322,"v":0.4},{"t":326,"v":0.36},{"t":330,"v":0.34},{"t":335,"v":0.33},{"t":340,"v":0.32},{"t":345,"v":0.31},{"t":350,"v":0.28},{"t":355,"v":0.27},{"t":360,"v":0.25},{"t":366,"v":0.24},{"t":372,"v":0.23},{"t":378,"v":0.22},{"t":385,"v":0.21},{"t":392,"v":0.19},{"t":400,"v":0.18},{"t":408,"v":0.17},{"t":416,"v":0.16},{"t":424,"v":0.15},{"t":432,"v":0.14},{"t":440,"v":0.15},{"t":450,"v":0.13},{"t":460,"v":0.12},{"t":470,"v":0.13},{"t":480,"v":0.11},{"t":490,"v":0.12},{"t":500,"v":0.11},{"t":510,"v":0.1},{"t":520,"v":0.11},{"t":530,"v":0.1},{"t":540,"v":0.09},{"t":550,"v":0.1},{"t":560,"v":0.09},{"t":570,"v":0.1},{"t":580,"v":0.09},{"t":590,"v":0.08},{"t":600,"v":0.09},{"t":608,"v":0.1},{"t":614,"v":0.09}],
"bl5": [{"t":0,"v":0.19},{"t":1,"v":0.45},{"t":2,"v":0.65},{"t":4,"v":0.8},{"t":6,"v":0.9},{"t":8,"v":0.97},{"t":10,"v":1.03},{"t":12,"v":1.07},{"t":14,"v":1.11},{"t":16,"v":1.15},{"t":18,"v":1.18},{"t":20,"v":1.19},{"t":23,"v":1.22},{"t":26,"v":1.21},{"t":29,"v":1.26},{"t":32,"v":1.29},{"t":35,"v":1.31},{"t":38,"v":1.33},{"t":41,"v":1.34},{"t":44,"v":1.37},{"t":48,"v":1.36},{"t":52,"v":1.39},{"t":56,"v":1.38},{"t":60,"v":1.41},{"t":64,"v":1.42},{"t":68,"v":1.43},{"t":72,"v":1.45},{"t":76,"v":1.44},{"t":80,"v":1.47},{"t":84,"v":1.46},{"t":88,"v":1.48},{"t":92,"v":1.49},{"t":96,"v":1.48},{"t":100,"v":1.51},{"t":104,"v":1.53},{"t":108,"v":1.51},{"t":112,"v":1.55},{"t":116,"v":1.54},{"t":120,"v":1.56},{"t":124,"v":1.55},{"t":128,"v":1.57},{"t":132,"v":1.56},{"t":136,"v":1.58},{"t":140,"v":1.57},{"t":145,"v":1.59},{"t":150,"v":1.58},{"t":155,"v":1.6},{"t":160,"v":1.61},{"t":165,"v":1.6},{"t":170,"v":1.62},{"t":175,"v":1.61},{"t":180,"v":1.63},{"t":185,"v":1.64},{"t":190,"v":1.63},{"t":195,"v":1.65},{"t":200,"v":1.66},{"t":205,"v":1.65},{"t":210,"v":1.67},{"t":215,"v":1.66},{"t":220,"v":1.68},{"t":225,"v":1.67},{"t":230,"v":1.69},{"t":235,"v":1.68},{"t":240,"v":1.67},{"t":245,"v":1.69},{"t":250,"v":1.7},{"t":255,"v":1.69},{"t":260,"v":1.71},{"t":265,"v":1.7},{"t":270,"v":1.72},{"t":275,"v":1.71},{"t":280,"v":1.73},{"t":285,"v":1.71},{"t":290,"v":1.73},{"t":294,"v":1.72},{"t":297,"v":1.75},{"t":300,"v":1.72},{"t":302,"v":1.6},{"t":305,"v":1.4},{"t":308,"v":1.25},{"t":311,"v":1.12},{"t":314,"v":1},{"t":317,"v":0.9},{"t":320,"v":0.82},{"t":324,"v":0.74},{"t":328,"v":0.69},{"t":333,"v":0.64},{"t":338,"v":0.6},{"t":343,"v":0.57},{"t":348,"v":0.54},{"t":354,"v":0.51},{"t":360,"v":0.48},{"t":366,"v":0.46},{"t":372,"v":0.43},{"t":378,"v":0.41},{"t":385,"v":0.39},{"t":392,"v":0.37},{"t":400,"v":0.34},{"t":408,"v":0.33},{"t":416,"v":0.31},{"t":424,"v":0.3},{"t":432,"v":0.29},{"t":440,"v":0.28},{"t":450,"v":0.27},{"t":460,"v":0.27},{"t":470,"v":0.25},{"t":480,"v":0.24},{"t":490,"v":0.25},{"t":500,"v":0.23},{"t":510,"v":0.23},{"t":520,"v":0.22},{"t":530,"v":0.22},{"t":540,"v":0.21},{"t":550,"v":0.22},{"t":560,"v":0.2},{"t":570,"v":0.21},{"t":580,"v":0.2},{"t":590,"v":0.19},{"t":600,"v":0.19},{"t":608,"v":0.18},{"t":614,"v":0.16}],
"br1": [{"t":0,"v":0.02},{"t":4,"v":0.01},{"t":8,"v":0.03},{"t":12,"v":0.04},{"t":16,"v":0.02},{"t":20,"v":0.04},{"t":24,"v":0.03},{"t":28,"v":0.05},{"t":32,"v":0.03},{"t":36,"v":0.02},{"t":40,"v":0.04},{"t":44,"v":0.03},{"t":48,"v":0.02},{"t":52,"v":0.04},{"t":56,"v":0.03},{"t":60,"v":0.05},{"t":64,"v":0.02},{"t":68,"v":0.04},{"t":72,"v":0.03},{"t":76,"v":0.02},{"t":80,"v":0.04},{"t":84,"v":0.03},{"t":88,"v":0.05},{"t":92,"v":0.03},{"t":96,"v":0.04},{"t":100,"v":0.02},{"t":104,"v":0.04},{"t":108,"v":0.03},{"t":112,"v":0.05},{"t":116,"v":0.03},{"t":120,"v":0.02},{"t":124,"v":0.04},{"t":128,"v":0.03},{"t":132,"v":0.04},{"t":136,"v":0.02},{"t":140,"v":0.04},{"t":144,"v":0.03},{"t":148,"v":0.05},{"t":152,"v":0.03},{"t":156,"v":0.04},{"t":160,"v":0.03},{"t":164,"v":0.04},{"t":168,"v":0.02},{"t":172,"v":0.04},{"t":176,"v":0.03},{"t":180,"v":0.05},{"t":183,"v":0.02},{"t":186,"v":-0.01},{"t":190,"v":0},{"t":194,"v":-0.02},{"t":198,"v":-0.01},{"t":202,"v":-0.02},{"t":206,"v":0},{"t":210,"v":-0.01},{"t":214,"v":-0.02},{"t":218,"v":-0.01},{"t":222,"v":-0.03},{"t":226,"v":-0.01},{"t":230,"v":0},{"t":234,"v":-0.02},{"t":238,"v":-0.01},{"t":242,"v":-0.02},{"t":246,"v":0},{"t":250,"v":-0.01},{"t":254,"v":-0.02},{"t":258,"v":0},{"t":262,"v":-0.01},{"t":266,"v":-0.02},{"t":270,"v":0},{"t":274,"v":-0.01},{"t":278,"v":0.01},{"t":282,"v":-0.01},{"t":286,"v":-0.02},{"t":290,"v":0},{"t":294,"v":-0.01},{"t":298,"v":0},{"t":302,"v":-0.01},{"t":306,"v":0},{"t":310,"v":0.01},{"t":314,"v":0},{"t":318,"v":0.01},{"t":322,"v":0},{"t":326,"v":0.01},{"t":330,"v":0},{"t":335,"v":0.01},{"t":340,"v":0},{"t":345,"v":0.01},{"t":350,"v":0},{"t":355,"v":0.01},{"t":360,"v":0},{"t":365,"v":-0.01},{"t":370,"v":0}],
"br2": [{"t":0,"v":0.02},{"t":4,"v":0.05},{"t":8,"v":0.07},{"t":12,"v":0.09},{"t":16,"v":0.1},{"t":20,"v":0.11},{"t":25,"v":0.12},{"t":30,"v":0.13},{"t":35,"v":0.14},{"t":40,"v":0.15},{"t":45,"v":0.16},{"t":50,"v":0.17},{"t":55,"v":0.16},{"t":60,"v":0.18},{"t":65,"v":0.17},{"t":70,"v":0.19},{"t":75,"v":0.17},{"t":80,"v":0.18},{"t":85,"v":0.17},{"t":90,"v":0.16},{"t":95,"v":0.18},{"t":100,"v":0.16},{"t":105,"v":0.17},{"t":110,"v":0.15},{"t":115,"v":0.16},{"t":120,"v":0.17},{"t":125,"v":0.15},{"t":130,"v":0.15},{"t":135,"v":0.14},{"t":140,"v":0.15},{"t":145,"v":0.13},{"t":150,"v":0.14},{"t":155,"v":0.12},{"t":160,"v":0.13},{"t":165,"v":0.12},{"t":170,"v":0.11},{"t":175,"v":0.12},{"t":180,"v":0.1},{"t":185,"v":0.11},{"t":190,"v":0.1},{"t":195,"v":0.09},{"t":200,"v":0.1},{"t":205,"v":0.09},{"t":210,"v":0.08},{"t":215,"v":0.09},{"t":220,"v":0.08},{"t":225,"v":0.09},{"t":230,"v":0.07},{"t":235,"v":0.08},{"t":240,"v":0.07},{"t":245,"v":0.08},{"t":250,"v":0.06},{"t":255,"v":0.07},{"t":260,"v":0.06},{"t":265,"v":0.07},{"t":270,"v":0.06},{"t":275,"v":0.05},{"t":280,"v":0.06},{"t":285,"v":0.05},{"t":290,"v":0.06},{"t":295,"v":0.04},{"t":300,"v":0.05},{"t":305,"v":0.04},{"t":310,"v":0.03},{"t":315,"v":0.04},{"t":320,"v":0.02},{"t":325,"v":0.03},{"t":330,"v":0.02},{"t":335,"v":0.03},{"t":340,"v":0.02},{"t":345,"v":0.04},{"t":350,"v":0.02},{"t":355,"v":0.03},{"t":360,"v":0.02},{"t":366,"v":0.04},{"t":372,"v":0.02},{"t":378,"v":0.03},{"t":384,"v":0.02},{"t":390,"v":0.04},{"t":396,"v":0.03},{"t":402,"v":0.04},{"t":408,"v":0.03},{"t":414,"v":0.04},{"t":420,"v":0.03},{"t":426,"v":0.05},{"t":432,"v":0.04},{"t":438,"v":0.05},{"t":444,"v":0.04},{"t":450,"v":0.05},{"t":456,"v":0.05},{"t":462,"v":0.06},{"t":468,"v":0.05},{"t":474,"v":0.06},{"t":480,"v":0.07},{"t":486,"v":0.06},{"t":492,"v":0.07},{"t":498,"v":0.08},{"t":504,"v":0.07},{"t":510,"v":0.08},{"t":516,"v":0.09},{"t":522,"v":0.08},{"t":528,"v":0.09},{"t":534,"v":0.08},{"t":540,"v":0.1},{"t":546,"v":0.09},{"t":552,"v":0.1},{"t":558,"v":0.09},{"t":564,"v":0.11},{"t":570,"v":0.1},{"t":576,"v":0.09},{"t":582,"v":0.11},{"t":588,"v":0.1},{"t":594,"v":0.11},{"t":600,"v":0.12},{"t":604,"v":0.13},{"t":608,"v":0.11},{"t":612,"v":0.12},{"t":616,"v":0.1}],
"br3": [{"t":0,"v":0.06},{"t":5,"v":0.09},{"t":10,"v":0.1},{"t":15,"v":0.11},{"t":20,"v":0.12},{"t":25,"v":0.11},{"t":30,"v":0.13},{"t":35,"v":0.12},{"t":40,"v":0.14},{"t":45,"v":0.12},{"t":50,"v":0.13},{"t":55,"v":0.12},{"t":60,"v":0.14},{"t":65,"v":0.12},{"t":70,"v":0.13},{"t":75,"v":0.12},{"t":80,"v":0.13},{"t":85,"v":0.11},{"t":90,"v":0.13},{"t":95,"v":0.12},{"t":100,"v":0.11},{"t":105,"v":0.13},{"t":110,"v":0.11},{"t":115,"v":0.12},{"t":120,"v":0.11},{"t":125,"v":0.12},{"t":130,"v":0.1},{"t":135,"v":0.12},{"t":140,"v":0.11},{"t":145,"v":0.1},{"t":150,"v":0.11},{"t":155,"v":0.1},{"t":160,"v":0.11},{"t":165,"v":0.09},{"t":170,"v":0.1},{"t":175,"v":0.11},{"t":180,"v":0.09},{"t":185,"v":0.1},{"t":190,"v":0.11},{"t":195,"v":0.1},{"t":200,"v":0.09},{"t":205,"v":0.11},{"t":210,"v":0.1},{"t":215,"v":0.11},{"t":220,"v":0.1},{"t":225,"v":0.12},{"t":230,"v":0.11},{"t":235,"v":0.12},{"t":240,"v":0.1},{"t":245,"v":0.12},{"t":250,"v":0.11},{"t":255,"v":0.13},{"t":260,"v":0.12},{"t":265,"v":0.11},{"t":270,"v":0.12},{"t":275,"v":0.1},{"t":280,"v":0.11},{"t":285,"v":0.1},{"t":290,"v":0.11},{"t":295,"v":0.1},{"t":300,"v":0.1},{"t":306,"v":0.1},{"t":312,"v":0.09},{"t":318,"v":0.07},{"t":324,"v":0.05},{"t":330,"v":0.04},{"t":337,"v":0.03},{"t":344,"v":0.03},{"t":351,"v":0.02},{"t":358,"v":0.02},{"t":366,"v":0.01},{"t":374,"v":0.02},{"t":382,"v":0.01},{"t":390,"v":0},{"t":398,"v":0.01},{"t":406,"v":-0.01},{"t":414,"v":0},{"t":422,"v":-0.01},{"t":430,"v":-0.02},{"t":438,"v":-0.01},{"t":446,"v":-0.02},{"t":454,"v":-0.01},{"t":462,"v":-0.03},{"t":470,"v":-0.02},{"t":478,"v":-0.03},{"t":486,"v":-0.02},{"t":494,"v":-0.03},{"t":502,"v":-0.02},{"t":510,"v":-0.04},{"t":518,"v":-0.03},{"t":526,"v":-0.02},{"t":534,"v":-0.04},{"t":542,"v":-0.03},{"t":550,"v":-0.04},{"t":558,"v":-0.03},{"t":566,"v":-0.05},{"t":574,"v":-0.03},{"t":582,"v":-0.04},{"t":590,"v":-0.03},{"t":598,"v":-0.05},{"t":606,"v":-0.04},{"t":612,"v":-0.03},{"t":616,"v":-0.05}],
"br4": [{"t":0,"v":0.12},{"t":3,"v":0.15},{"t":6,"v":0.17},{"t":10,"v":0.18},{"t":15,"v":0.19},{"t":20,"v":0.18},{"t":25,"v":0.19},{"t":30,"v":0.2},{"t":35,"v":0.19},{"t":40,"v":0.2},{"t":45,"v":0.19},{"t":50,"v":0.21},{"t":55,"v":0.2},{"t":60,"v":0.19},{"t":65,"v":0.21},{"t":70,"v":0.2},{"t":75,"v":0.21},{"t":80,"v":0.2},{"t":85,"v":0.19},{"t":90,"v":0.21},{"t":95,"v":0.2},{"t":100,"v":0.21},{"t":105,"v":0.2},{"t":110,"v":0.19},{"t":115,"v":0.21},{"t":120,"v":0.2},{"t":125,"v":0.21},{"t":130,"v":0.2},{"t":135,"v":0.19},{"t":140,"v":0.21},{"t":145,"v":0.2},{"t":150,"v":0.21},{"t":155,"v":0.2},{"t":160,"v":0.19},{"t":165,"v":0.21},{"t":170,"v":0.2},{"t":175,"v":0.21},{"t":180,"v":0.19},{"t":185,"v":0.21},{"t":190,"v":0.2},{"t":195,"v":0.21},{"t":200,"v":0.2},{"t":205,"v":0.19},{"t":210,"v":0.21},{"t":215,"v":0.2},{"t":220,"v":0.21},{"t":225,"v":0.2},{"t":230,"v":0.22},{"t":235,"v":0.2},{"t":240,"v":0.21},{"t":245,"v":0.19},{"t":250,"v":0.21},{"t":255,"v":0.2},{"t":260,"v":0.22},{"t":265,"v":0.2},{"t":270,"v":0.21},{"t":275,"v":0.2},{"t":280,"v":0.22},{"t":285,"v":0.2},{"t":290,"v":0.21},{"t":295,"v":0.22},{"t":300,"v":0.21},{"t":302,"v":0.22},{"t":305,"v":0.19},{"t":308,"v":0.17},{"t":312,"v":0.15},{"t":316,"v":0.13},{"t":320,"v":0.12},{"t":326,"v":0.11},{"t":332,"v":0.1},{"t":338,"v":0.09},{"t":345,"v":0.09},{"t":352,"v":0.08},{"t":360,"v":0.07},{"t":368,"v":0.07},{"t":376,"v":0.06},{"t":385,"v":0.07},{"t":395,"v":0.06},{"t":405,"v":0.07},{"t":415,"v":0.06},{"t":425,"v":0.07},{"t":435,"v":0.06},{"t":445,"v":0.07},{"t":455,"v":0.06},{"t":465,"v":0.07},{"t":475,"v":0.06},{"t":485,"v":0.07},{"t":495,"v":0.06},{"t":505,"v":0.07},{"t":515,"v":0.08},{"t":525,"v":0.06},{"t":535,"v":0.07},{"t":545,"v":0.06},{"t":555,"v":0.07},{"t":565,"v":0.06},{"t":575,"v":0.07},{"t":585,"v":0.06},{"t":595,"v":0.07},{"t":605,"v":0.08},{"t":612,"v":0.07},{"t":616,"v":0.08}],
"br5": [{"t":0,"v":0.28},{"t":5,"v":0.31},{"t":10,"v":0.32},{"t":15,"v":0.31},{"t":20,"v":0.33},{"t":25,"v":0.32},{"t":30,"v":0.34},{"t":35,"v":0.32},{"t":40,"v":0.33},{"t":45,"v":0.34},{"t":50,"v":0.32},{"t":55,"v":0.33},{"t":60,"v":0.35},{"t":65,"v":0.33},{"t":70,"v":0.34},{"t":75,"v":0.33},{"t":80,"v":0.35},{"t":85,"v":0.34},{"t":90,"v":0.36},{"t":95,"v":0.34},{"t":100,"v":0.35},{"t":105,"v":0.33},{"t":110,"v":0.36},{"t":115,"v":0.34},{"t":120,"v":0.35},{"t":125,"v":0.33},{"t":130,"v":0.36},{"t":135,"v":0.34},{"t":140,"v":0.35},{"t":145,"v":0.34},{"t":150,"v":0.36},{"t":155,"v":0.35},{"t":160,"v":0.37},{"t":165,"v":0.35},{"t":170,"v":0.36},{"t":175,"v":0.35},{"t":180,"v":0.37},{"t":185,"v":0.36},{"t":190,"v":0.35},{"t":195,"v":0.37},{"t":200,"v":0.36},{"t":205,"v":0.37},{"t":210,"v":0.36},{"t":215,"v":0.38},{"t":220,"v":0.36},{"t":225,"v":0.37},{"t":230,"v":0.38},{"t":235,"v":0.36},{"t":240,"v":0.38},{"t":245,"v":0.37},{"t":250,"v":0.39},{"t":255,"v":0.37},{"t":260,"v":0.38},{"t":265,"v":0.39},{"t":270,"v":0.37},{"t":275,"v":0.39},{"t":280,"v":0.38},{"t":285,"v":0.4},{"t":290,"v":0.38},{"t":295,"v":0.39},{"t":300,"v":0.38},{"t":303,"v":0.33},{"t":306,"v":0.28},{"t":310,"v":0.22},{"t":314,"v":0.18},{"t":318,"v":0.16},{"t":323,"v":0.14},{"t":328,"v":0.13},{"t":334,"v":0.12},{"t":340,"v":0.11},{"t":347,"v":0.11},{"t":354,"v":0.1},{"t":362,"v":0.1},{"t":370,"v":0.09},{"t":378,"v":0.1},{"t":386,"v":0.09},{"t":395,"v":0.1},{"t":405,"v":0.09},{"t":415,"v":0.1},{"t":425,"v":0.08},{"t":435,"v":0.09},{"t":445,"v":0.1},{"t":455,"v":0.08},{"t":465,"v":0.09},{"t":475,"v":0.1},{"t":485,"v":0.09},{"t":495,"v":0.08},{"t":505,"v":0.1},{"t":515,"v":0.09},{"t":525,"v":0.1},{"t":535,"v":0.09},{"t":545,"v":0.1},{"t":555,"v":0.09},{"t":565,"v":0.1},{"t":575,"v":0.11},{"t":585,"v":0.1},{"t":595,"v":0.11},{"t":605,"v":0.1},{"t":612,"v":0.09},{"t":616,"v":0.09}]
}
}
